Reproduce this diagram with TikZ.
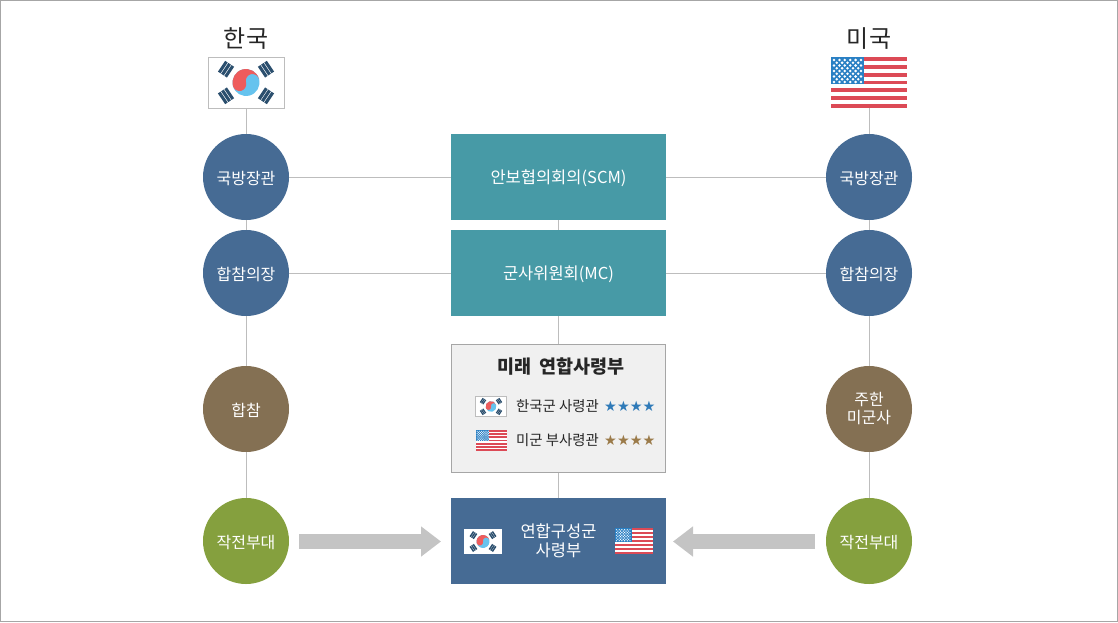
\documentclass[tikz,border=0pt]{standalone}
\usepackage{fontspec}
\setmainfont{Noto Sans CJK KR}
\newfontfamily\starfont{DejaVu Sans}
\usepackage{xcolor}
\usetikzlibrary{arrows.meta}
\definecolor{dblue}{HTML}{466B94}
\definecolor{dbrown}{HTML}{847053}
\definecolor{dgreen}{HTML}{85A03E}
\definecolor{dteal}{HTML}{479AA6}
\definecolor{lgray}{HTML}{BDBDBD}
\definecolor{tred}{HTML}{EE5C5C}
\definecolor{tblue}{HTML}{66C3EE}
\definecolor{tbar}{HTML}{2B4F6E}
\definecolor{sred}{HTML}{DC4A56}
\definecolor{cblue}{HTML}{2A80C4}
\definecolor{starblue}{HTML}{2F7AB8}
\definecolor{starbrown}{HTML}{9B7B4A}
\colorlet{flagline}{lgray}
\tikzset{
	circ/.style={circle, minimum size=86pt, inner sep=0pt, text=white, align=center, font=\fontsize{16}{18}\selectfont},
	bar/.style={minimum width=215pt, minimum height=86pt, inner sep=0pt, text=white, align=center, font=\fontsize{16.5}{19}\selectfont},
	oneline/.style={text height=16pt, text depth=2pt},
	barline/.style={text height=16pt, text depth=2.5pt},
	flagbox/.style={minimum width=76pt, minimum height=51pt, inner sep=0pt},
	title/.style={text=black!85, font=\fontsize{24}{28}\selectfont},
	rowtext/.style={text=black!85, inner sep=0pt, anchor=west, font=\fontsize{14.4}{16}\selectfont},
	stars/.style={inner sep=0pt, anchor=west, font=\starfont\bfseries\fontsize{14.3}{15}\selectfont},
	link/.style={lgray, line width=0.8pt},
	bigarrow/.style={draw=black!23, line width=15pt, -{Triangle[width=29pt,length=20pt]}},
	krflag/.pic={
		\filldraw[draw=flagline, fill=white, line width=0.8pt] (-38,-25.5) rectangle (38,25.5);
		\begin{scope}[rotate=15]
			\fill[tblue] (0,0) circle (13.5);
			\fill[tred] (-13.5,0) arc (180:360:13.5) arc (0:-180:6.75) arc (0:180:6.75) -- cycle;
		\end{scope}
		\foreach \a in {33.7,146.3,213.7,326.3}{
			\begin{scope}[rotate=\a, shift={(24,0)}]
				\fill[tbar] (-5.4,-6.5) rectangle (-2.3,6.5);
				\fill[tbar] (-1.55,-6.5) rectangle (1.55,6.5);
				\fill[tbar] (2.3,-6.5) rectangle (5.4,6.5);
			\end{scope}
		}
	},
	usflag/.pic={
		\fill[white] (-38,-25.5) rectangle (38,25.5);
		\foreach \i in {0,2,...,12}{
			\fill[sred] (-38,-25.5+\i*3.923) rectangle (38,-25.5+\i*3.923+3.923);
		}
		\fill[cblue] (-38,-25.5) rectangle (-5,1.5);
		\foreach \r in {0,...,4}{
			\foreach \c in {0,...,5}{
				\fill[white] (-35+\c*5.4,-22.5+\r*5.5) circle (1.4);
			}
		}
		\foreach \r in {0,...,3}{
			\foreach \c in {0,...,4}{
				\fill[white] (-32.3+\c*5.4,-19.75+\r*5.5) circle (1.4);
			}
		}
	}
}

\begin{document}
\begin{tikzpicture}[x=1pt, y=-1pt]
	\useasboundingbox (0,0) rectangle (1118,622);
	\draw[draw=black!35, line width=0.8pt] (0.5,0.5) rectangle (1117.5,621.5);

	\node[title] (krtitle) at (246,38.5) {한국};
	\node[title] (ustitle) at (869,38.5) {미국};
	\node[flagbox] (krbox) at (246,82.5) {};
	\node[flagbox] (usbox) at (869,82.5) {};
	\pic at (krbox.center) {krflag};
	\pic at (usbox.center) {usflag};

	\node[circ, oneline, fill=dblue] (krdef) at (246,177) {국방장관};
	\node[circ, oneline, fill=dblue] (krjcs) at (246,273) {합참의장};
	\node[circ, oneline, fill=dbrown] (krhq) at (246,409) {합참};
	\node[circ, oneline, fill=dgreen] (krops) at (246,541) {작전부대};
	\node[circ, oneline, fill=dblue] (usdef) at (869,177) {국방장관};
	\node[circ, oneline, fill=dblue] (usjcs) at (869,273) {합참의장};
	\node[circ, fill=dbrown] (ushq) at (869,409) {주한\\미군사};
	\node[circ, oneline, fill=dgreen] (usops) at (869,541) {작전부대};

	\node[bar, barline, fill=dteal] (scm) at (558.5,177) {안보협의회의(SCM)};
	\node[bar, barline, fill=dteal] (mc) at (558.5,273) {군사위원회(MC)};
	\node[bar, fill=black!6, draw=black!35, minimum width=214pt, minimum height=128pt, line width=0.8pt] (future) at (558.5,408.5) {};
	\node[bar, fill=dblue] (cfc) at (558.5,541) {연합구성군\\사령부};

	\node[text=black!85, inner sep=0pt, font=\bfseries\fontsize{18.5}{20}\selectfont] (futuretitle) at (561,366.5) {미래\hspace{3pt} 연합사령부};
	\node[rowtext] (krrow) at (516,406.5) {한국군 사령관};
	\node[rowtext] (usrow) at (516,440.5) {미군 부사령관};
	\node[stars, text=starblue] (krstars) at (604,406) {★★★★};
	\node[stars, text=starbrown] (usstars) at (604,440) {★★★★};
	\pic[scale=0.4] at (491,406.5) {krflag};
	\pic[scale=0.41] at (491.5,440.5) {usflag};
	\begin{scope}
		\colorlet{flagline}{white}
		\pic[scale=0.48] at (483,541.5) {krflag};
	\end{scope}
	\pic[scale=0.5] at (634,541) {usflag};

	\coordinate (larrowa) at (299,541.5);
	\coordinate (larrowb) at (441,541.5);
	\coordinate (rarrowa) at (815,541.5);
	\coordinate (rarrowb) at (673,541.5);
	\draw[bigarrow] (larrowa) -- (larrowb);
	\draw[bigarrow] (rarrowa) -- (rarrowb);

	\draw[link] (krbox) -- (krdef);
	\draw[link] (krdef) -- (krjcs);
	\draw[link] (krjcs) -- (krhq);
	\draw[link] (krhq) -- (krops);
	\draw[link] (usbox) -- (usdef);
	\draw[link] (usdef) -- (usjcs);
	\draw[link] (usjcs) -- (ushq);
	\draw[link] (ushq) -- (usops);
	\draw[link] (krdef) -- (scm);
	\draw[link] (scm) -- (usdef);
	\draw[link] (krjcs) -- (mc);
	\draw[link] (mc) -- (usjcs);
	\draw[link] (scm) -- (mc);
	\draw[link] (mc) -- (future);
	\draw[link] (future) -- (cfc);
\end{tikzpicture}
\end{document}
